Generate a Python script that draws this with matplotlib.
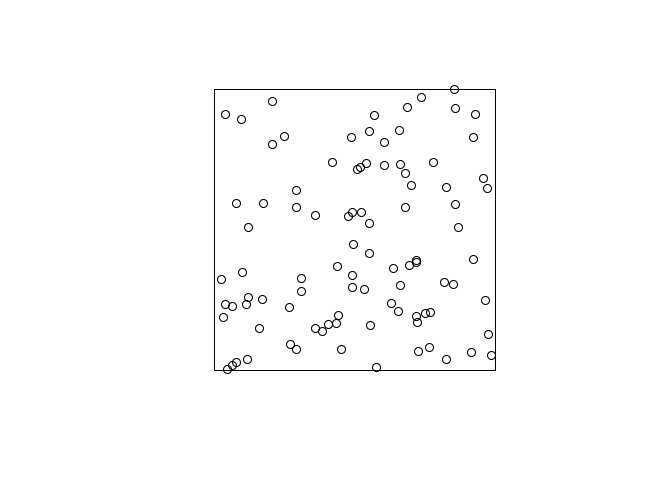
import matplotlib
matplotlib.use('Agg')
import matplotlib.pyplot as plt

# point pattern in unit square window
x = [0.854, 0.736, 0.206, 0.037, 0.093, 0.686, 0.856, 0.568, 0.927, 0.246,
     0.204, 0.485, 0.550, 0.656, 0.603, 0.922, 0.417, 0.509, 0.518, 0.538,
     0.603, 0.662, 0.777, 0.679, 0.699, 0.956, 0.970, 0.823, 0.289, 0.075,
     0.172, 0.289, 0.855, 0.678, 0.359, 0.476, 0.490, 0.523, 0.551, 0.118,
     0.868, 0.492, 0.549, 0.717, 0.718, 0.692, 0.435, 0.636, 0.922, 0.099,
     0.491, 0.022, 0.307, 0.662, 0.817, 0.848, 0.490, 0.533, 0.307, 0.118,
     0.168, 0.037, 0.063, 0.113, 0.266, 0.629, 0.963, 0.031, 0.655, 0.750,
     0.767, 0.717, 0.722, 0.441, 0.405, 0.433, 0.358, 0.384, 0.160, 0.555,
     0.975, 0.269, 0.289, 0.450, 0.725, 0.765, 0.913, 0.824, 0.985, 0.117,
     0.075, 0.061, 0.045, 0.575]
y = [0.999, 0.973, 0.958, 0.911, 0.893, 0.937, 0.934, 0.909, 0.911, 0.834,
     0.806, 0.831, 0.852, 0.855, 0.811, 0.829, 0.742, 0.715, 0.722, 0.736,
     0.729, 0.734, 0.740, 0.700, 0.660, 0.685, 0.647, 0.651, 0.640, 0.594,
     0.596, 0.582, 0.590, 0.580, 0.552, 0.550, 0.563, 0.564, 0.522, 0.508,
     0.511, 0.449, 0.416, 0.392, 0.384, 0.373, 0.371, 0.364, 0.394, 0.350,
     0.338, 0.323, 0.329, 0.302, 0.314, 0.307, 0.295, 0.287, 0.281, 0.261,
     0.253, 0.234, 0.229, 0.236, 0.225, 0.240, 0.250, 0.190, 0.209, 0.204,
     0.205, 0.193, 0.170, 0.196, 0.165, 0.167, 0.148, 0.139, 0.150, 0.161,
     0.127, 0.094, 0.076, 0.076, 0.069, 0.081, 0.065, 0.039, 0.054, 0.040,
     0.028, 0.018, 0.004, 0.010]

fig = plt.figure(figsize=(7, 5), dpi=96)
ax = fig.add_axes([214.5/672, 110/480, 280.8/672, 280.8/480])
ax.plot(x, y, linestyle='none', marker='o', markersize=6,
        markerfacecolor='none', markeredgecolor='black', markeredgewidth=0.8,
        clip_on=False)
ax.set_xlim(0, 1)
ax.set_ylim(0, 1)
ax.set_xticks([])
ax.set_yticks([])
for s in ax.spines.values():
    s.set_linewidth(0.75)
    s.set_color('black')

fig.savefig('out.png', dpi=96)
